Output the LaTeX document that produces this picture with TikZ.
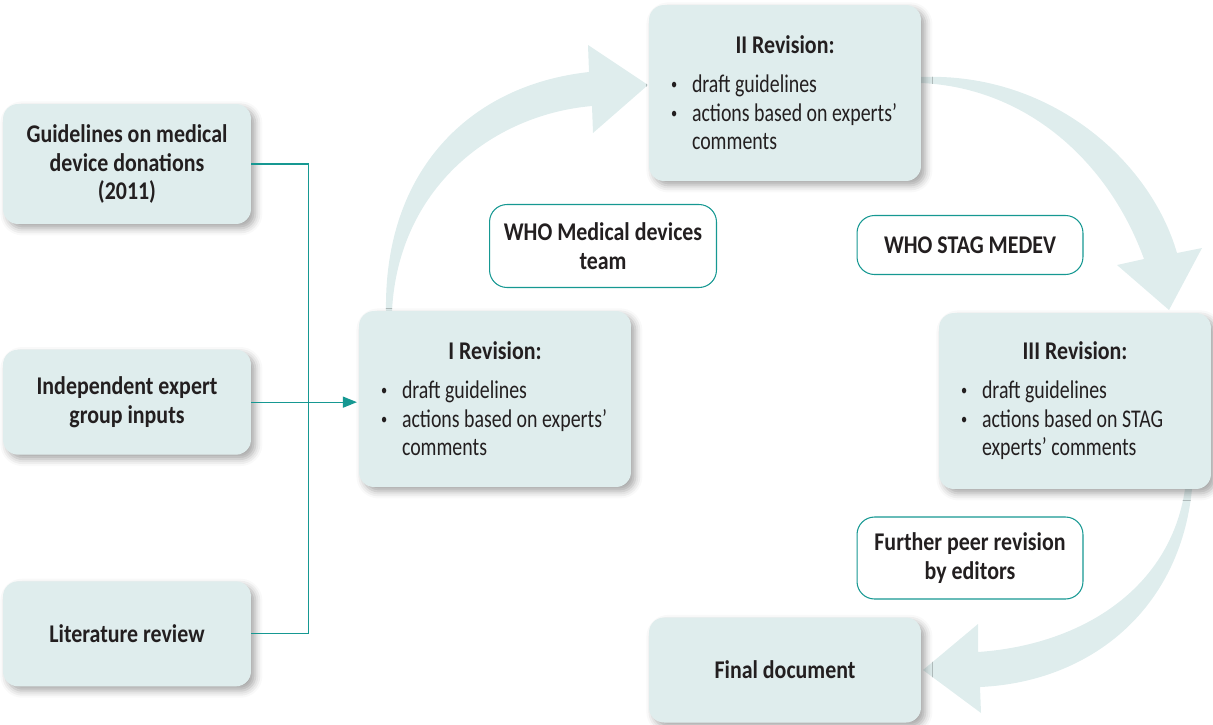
\documentclass[tikz,border=0pt]{standalone}
\usepackage{fontspec}
\setmainfont{Carlito}[FakeStretch=0.78, BoldFeatures={FakeStretch=0.86}]
\usetikzlibrary{positioning,arrows.meta,shadows.blur}

\definecolor{boxfill}{RGB}{223,237,237}
\definecolor{whoteal}{RGB}{22,152,146}
\definecolor{ink}{RGB}{35,31,32}

\newcommand{\sz}{\fontsize{14.5}{16.4}\selectfont}
\newcommand{\dotmark}{\raisebox{1.6pt}{\fontsize{9}{9}\selectfont\textbullet}}
\newcommand{\itm}[1]{\par\noindent\hangindent=0.42cm\hangafter=1\makebox[0.42cm][l]{\dotmark}#1}
\newcommand{\revtext}[2]{\parbox{4.56cm}{\centering\bfseries #1\par\vspace{5.5pt}\raggedright\mdseries #2}}

\begin{document}
\begin{tikzpicture}[x=0.02cm,y=-0.02cm, text=ink,
	  box/.style={rounded corners=0.3cm, fill=boxfill, inner sep=0pt, align=center, font=\sz\bfseries,
	    blur shadow={shadow xshift=2.5pt, shadow yshift=-2.5pt, shadow blur radius=4pt, shadow opacity=35}},
	  side/.style={box, minimum width=4.96cm, minimum height=2.1cm},
	  rev/.style={box, minimum width=5.44cm, minimum height=3.52cm},
	  tag/.style={draw=whoteal, line width=0.6pt, fill=white, rounded corners=0.35cm, inner sep=0pt, align=center, font=\sz\bfseries},
	  link/.style={draw=whoteal, line width=0.7pt},
	  flow/.style={fill=boxfill}]
	  \useasboundingbox (0,0) rectangle (1213,724);

	  \fill[flow] (386,311) .. controls (384,170) and (470,85) .. (589,72) -- (588,45) -- (648,85)
	    -- (593,133) -- (592,106) .. controls (490,115) and (398,190) .. (392,311) -- cycle;
	  \fill[flow] (921,77) .. controls (1050,72) and (1150,160) .. (1177,253) -- (1202,248) -- (1169,310)
	    -- (1117,265) -- (1144,259) .. controls (1110,165) and (1030,88) .. (921,83) -- cycle;
	  \fill[flow] (1192,489) .. controls (1180,610) and (1090,682) .. (980,687) -- (981,713) -- (923,670)
	    -- (978,624) -- (978,652) .. controls (1080,645) and (1170,590) .. (1185,489) -- cycle;

	  \node[side, minimum height=2.4cm] (g) at (127,164) {Guidelines on medical\\device donations\\(2011)};
	  \node[side, below=2.5cm of g] (e) {Independent expert\\group inputs};
	  \node[side, below=2.52cm of e] (l) {Literature review};

	  \node[rev] (r1) at (495,399) {\revtext{I Revision:}{\itm{draft guidelines}\itm{actions based on experts’\newline comments}}};
	  \node[rev] (r2) at (785,93) {\revtext{II Revision:}{\itm{draft guidelines}\itm{actions based on experts’\newline comments}}};
	  \node[rev] (r3) at (1075,401) {\revtext{III Revision:}{\itm{draft guidelines}\itm{actions based on STAG\newline experts’ comments}}};
	  \node[box, minimum width=5.44cm, minimum height=2.1cm] (fin) at (785,670) {Final document};

	  \node[tag, minimum width=4.54cm, minimum height=1.66cm] (t1) at (603,246) {WHO Medical devices\\team};
	  \node[tag, minimum width=4.52cm, minimum height=1.18cm] (t2) at (970,245) {WHO STAG MEDEV};
	  \node[tag, minimum width=4.52cm, minimum height=1.64cm] (t3) at (970,558) {Further peer revision\\by editors};

	  \draw[link] (g.east) -- ++(57,0) |- (l.east);
	  \draw[link, -{Triangle[length=0.28cm, width=0.22cm]}, shorten >=1pt] (e.east) -- (e.east -| r1.west);
\end{tikzpicture}
\end{document}
